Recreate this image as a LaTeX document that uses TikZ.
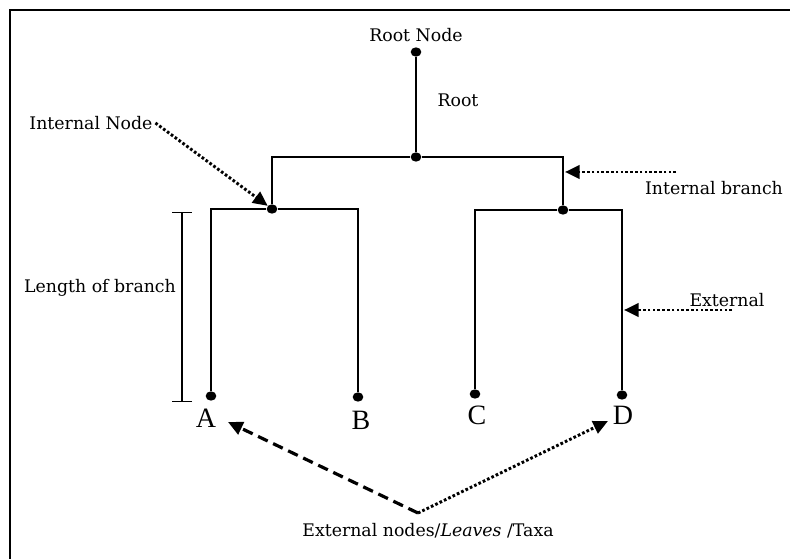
\documentclass[tikz,border=0pt]{standalone}
\usepackage{fontspec}
\setmainfont{DejaVu Serif}
\newfontfamily\leaffont{Liberation Serif}
\usetikzlibrary{arrows.meta,shapes.geometric}

\begin{document}
\begin{tikzpicture}[
   x = 0.75pt, y = -0.75pt,
   branch/.style = {line width=1.3pt},
      dot/.style = {ellipse, fill, inner sep=0pt,
                    minimum width=8pt, minimum height=7pt},
      lbl/.style = {inner sep=0pt,
                    font=\fontsize{13}{15}\selectfont},
     leaf/.style = {inner sep=0pt,
                    font=\leaffont\fontsize{21}{24}\selectfont},
  pointer/.style = {line width=2.2pt, dash pattern=on 2pt off 1.6pt,
                    -{Triangle[length=11pt,width=10pt]}},
   dashed ptr/.style = {line width=2.4pt, dash pattern=on 8pt off 4.5pt,
                    -{Triangle[length=11pt,width=10pt]}}
                        ]
\useasboundingbox (0,0) rectangle (790,559);
% frame (only top and left edge are visible)
\draw[line width=1.5pt] (10,559) -- (10,10) -- (790,10);
%
% nodes of the tree
\node[dot] (Top)   at (416,52)  {};
\node[dot] (RootJ) at (416,157) {};
\node[dot] (LeftJ) at (272,209) {};
\node[dot] (RightJ) at (563,210) {};
\node[dot] (A) at (211,396) {};
\node[dot] (B) at (358,397) {};
\node[dot] (C) at (475,394) {};
\node[dot] (D) at (622,395) {};
%
% branches
\draw[branch] (Top) -- (RootJ);
\draw[branch] (LeftJ) |- (RootJ) -| (RightJ);
\draw[branch] (A) |- (LeftJ) -| (B);
\draw[branch] (C) |- (RightJ) -| (D);
%
% leaf names
\node[leaf] (Aname) at (206,418) {A};
\node[leaf] (Bname) at (361,420) {B};
\node[leaf] (Cname) at (477,415) {C};
\node[leaf] (Dname) at (623,415) {D};
%
% labels
\node[lbl] (RootNode) at (416,35)  {Root Node};
\node[lbl] (RootLbl)  at (458,100) {Root};
\node[lbl] (IntNode)  at (91,123)  {Internal Node};
\node[lbl] (IntBr)    at (714,188) {Internal branch};
\node[lbl] (ExtLbl)   at (727,300) {External};
\node[lbl] (LenLbl)   at (100,288) {Length of branch};
\node[lbl] (Leaves)   at (428,531) {External nodes/\textit{Leaves} /Taxa};
%
% length of branch bar
\coordinate (LenTop) at (182,212);
\coordinate (LenBot) at (182,402);
\draw[line width=1pt, {Bar[width=15pt]}-{Bar[width=15pt]}] (LenTop) -- (LenBot);
%
% pointers
\coordinate (IBstart) at (676,172);
\coordinate (IBtip)   at (565,172);
\coordinate (EXstart) at (732,310);
\coordinate (EXtip)   at (624,310);
\coordinate (Meet)    at (418,513);
\coordinate (Atip)    at (228,422);
\coordinate (Dtip)    at (608,421);
\draw[pointer] ([xshift=2pt]IntNode.east) -- (LeftJ);
\draw[pointer] (IBstart) -- (IBtip);
\draw[pointer] (EXstart) -- (EXtip);
\draw[dashed ptr] (Meet) -- (Atip);
\draw[pointer] (Meet) -- (Dtip);
\end{tikzpicture}
\end{document}
